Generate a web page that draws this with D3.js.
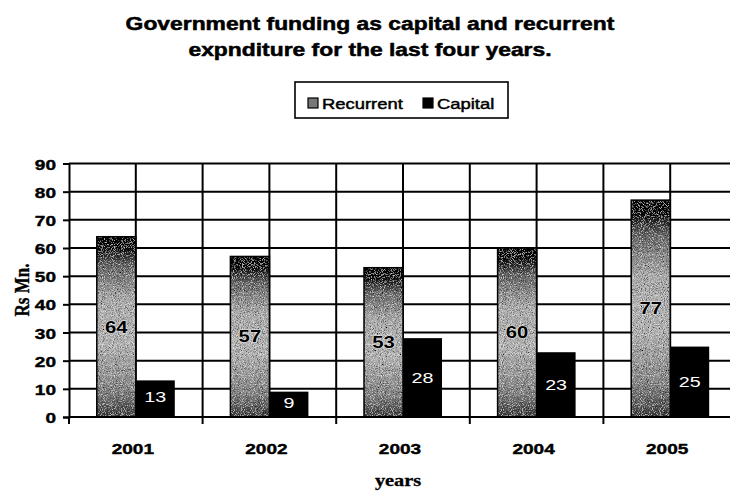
<!DOCTYPE html>
<html>
<head>
<meta charset="utf-8">
<script src="https://cdn.jsdelivr.net/npm/d3@7"></script>
<style>
  html, body { margin: 0; padding: 0; background: #fff; }
  svg { display: block; }
</style>
</head>
<body>
<script>
// Government funding (Rs Mn.) by year
const years = ["2001", "2002", "2003", "2004", "2005"];
const recurrent = [64, 57, 53, 60, 77];
const capital = [13, 9, 28, 23, 25];
const seriesNames = ["Recurrent", "Capital"];
const yTicks = [0, 10, 20, 30, 40, 50, 60, 70, 80, 90];
const titleLines = [
  "Government funding as capital and recurrent",
  "expnditure for the last four years."
];

const W = 730, H = 492;
const SX = 1.27; // glyphs are drawn horizontally widened

const svg = d3.select("body").append("svg")
  .attr("width", W).attr("height", H);

const defs = svg.append("defs");

// Shaded fill for the recurrent bars: dark top and bottom, lighter middle
const grad = defs.append("linearGradient")
  .attr("id", "recGrad").attr("x1", 0).attr("y1", 0).attr("x2", 0).attr("y2", 1);
[[0, "#000"], [0.07, "#0a0a0a"], [0.16, "#666"], [0.35, "#b4b4b4"],
 [0.6, "#bdbdbd"], [0.85, "#8a8a8a"], [1, "#3a3a3a"]]
  .forEach(([o, c]) => grad.append("stop").attr("offset", o).attr("stop-color", c));

// Speckle texture over the shaded bars
const speck = defs.append("filter").attr("id", "speckle")
  .attr("x", 0).attr("y", 0).attr("width", 1).attr("height", 1);
speck.append("feTurbulence").attr("type", "fractalNoise")
  .attr("baseFrequency", 0.95).attr("numOctaves", 2).attr("seed", 3).attr("result", "noise");
speck.append("feColorMatrix").attr("in", "noise").attr("type", "matrix")
  .attr("values", "0 0 0 0 0  0 0 0 0 0  0 0 0 0 0  2.2 0 0 0 -0.9")
  .attr("result", "dots");
speck.append("feComposite").attr("in", "dots").attr("in2", "SourceGraphic")
  .attr("operator", "atop").attr("result", "dark");
speck.append("feTurbulence").attr("type", "fractalNoise")
  .attr("baseFrequency", 1.1).attr("numOctaves", 1).attr("seed", 9).attr("result", "noise2");
speck.append("feColorMatrix").attr("in", "noise2").attr("type", "matrix")
  .attr("values", "0 0 0 0 1  0 0 0 0 1  0 0 0 0 1  2.4 0 0 0 -1.25")
  .attr("result", "light");
speck.append("feComposite").attr("in", "light").attr("in2", "SourceGraphic")
  .attr("operator", "in").attr("result", "lightIn");
speck.append("feMerge").call(m => {
  m.append("feMergeNode").attr("in", "SourceGraphic");
  m.append("feMergeNode").attr("in", "dark");
  m.append("feMergeNode").attr("in", "lightIn");
});

// Plot area
const plotLeft = 69, plotRight = 737, plotTop = 163.5, plotBottom = 417;

const x = d3.scaleBand().domain(years).range([plotLeft, plotRight]).paddingInner(0).paddingOuter(0);
const y = d3.scaleLinear().domain([0, 90]).range([plotBottom, plotTop]);
const barW = 39;
const xs = d3.scaleBand().domain(seriesNames).range([x.bandwidth() / 2 - barW, x.bandwidth() / 2 + barW]);

const stroke = "#000";
const sans = "Liberation Sans, Arial, sans-serif";
const serif = "Liberation Serif, Times New Roman, serif";

// Heavier strokes for the bold labels
function heavy(sel, w) {
  return sel.attr("stroke", "#000").attr("stroke-width", w).attr("stroke-linejoin", "round");
}

// Title
titleLines.forEach((t, i) => {
  svg.append("text")
    .attr("transform", `translate(370,${30 + i * 26}) scale(${SX},1)`)
    .attr("text-anchor", "middle")
    .attr("font-family", sans)
    .attr("font-weight", "bold").attr("font-size", 18)
    .attr("fill", "#000").call(heavy, 0.5).text(t);
});

// Legend
const lg = svg.append("g");
lg.append("rect").attr("x", 295).attr("y", 82).attr("width", 213).attr("height", 36)
  .attr("fill", "none").attr("stroke", stroke).attr("stroke-width", 1.6);
const legendItems = [
  { name: seriesNames[0], sx: 308, tx: 322, fill: "#777" },
  { name: seriesNames[1], sx: 423, tx: 437, fill: "#000" }
];
legendItems.forEach(d => {
  lg.append("rect").attr("x", d.sx).attr("y", 98).attr("width", 10).attr("height", 10)
    .attr("fill", d.fill)
    .attr("stroke", "#000").attr("stroke-width", 1.2);
  lg.append("text")
    .attr("transform", `translate(${d.tx},108.5) scale(${SX},1)`)
    .attr("font-family", sans)
    .attr("font-size", 14.5).attr("fill", "#000").call(heavy, 0.45).text(d.name);
});

// Grid: horizontal lines at each tick, vertical lines at band edges and centres
const grid = svg.append("g").attr("stroke", stroke).attr("stroke-width", 2);
grid.selectAll("line.h").data(yTicks.filter(v => v > 0)).join("line").attr("class", "h")
  .attr("x1", plotLeft).attr("x2", plotRight)
  .attr("y1", d => y(d)).attr("y2", d => y(d));
const vpos = [];
years.forEach(yr => { vpos.push(x(yr) + x.bandwidth() / 2); vpos.push(x(yr) + x.bandwidth()); });
grid.selectAll("line.v").data(vpos).join("line").attr("class", "v")
  .attr("x1", d => d).attr("x2", d => d).attr("y1", plotTop).attr("y2", plotBottom);

// Bars
const groups = svg.append("g").selectAll("g").data(years).join("g")
  .attr("transform", d => `translate(${x(d)},0)`);

groups.append("rect")
  .attr("x", xs("Recurrent")).attr("width", xs.bandwidth())
  .attr("y", (d, i) => y(recurrent[i])).attr("height", (d, i) => y(0) - y(recurrent[i]))
  .attr("fill", "url(#recGrad)").attr("filter", "url(#speckle)");
groups.append("rect")
  .attr("x", xs("Recurrent")).attr("width", xs.bandwidth())
  .attr("y", (d, i) => y(recurrent[i])).attr("height", (d, i) => y(0) - y(recurrent[i]))
  .attr("fill", "none").attr("stroke", "#000").attr("stroke-width", 1.5);
groups.append("rect")
  .attr("x", xs("Capital")).attr("width", xs.bandwidth())
  .attr("y", (d, i) => y(capital[i])).attr("height", (d, i) => y(0) - y(capital[i]))
  .attr("fill", "#000");

// Value labels, centred in each bar
groups.append("text")
  .attr("transform", (d, i) => `translate(${xs("Recurrent") + xs.bandwidth() / 2},${(y(recurrent[i]) + y(0)) / 2}) scale(${SX},1)`)
  .attr("dy", "0.36em").attr("text-anchor", "middle")
  .attr("font-family", sans)
  .attr("font-weight", "bold").attr("font-size", 16)
  .attr("fill", "#000").attr("stroke", "#e8e8e8").attr("stroke-width", 1.2)
  .attr("paint-order", "stroke")
  .text((d, i) => recurrent[i]);
groups.append("text")
  .attr("transform", (d, i) => `translate(${xs("Capital") + xs.bandwidth() / 2},${(y(capital[i]) + y(0)) / 2 + (capital[i] < 15 ? -2 : 0)}) scale(${SX},1)`)
  .attr("dy", "0.36em").attr("text-anchor", "middle")
  .attr("font-family", sans)
  .attr("font-size", 15.5).attr("fill", "#fff")
  .text((d, i) => capital[i]);

// Y axis
const yAxis = svg.append("g").attr("transform", `translate(${plotLeft},0)`)
  .call(d3.axisLeft(y).tickValues(yTicks).tickSize(6).tickPadding(6));
yAxis.select(".domain").attr("stroke", stroke).attr("stroke-width", 2);
yAxis.selectAll(".tick line").attr("stroke", stroke).attr("stroke-width", 2);
yAxis.selectAll(".tick text")
  .attr("x", null).attr("dy", null)
  .attr("transform", `translate(-13,5.5) scale(${SX},1)`)
  .attr("text-anchor", "end")
  .attr("font-family", sans)
  .attr("font-weight", "bold").attr("font-size", 15).attr("fill", "#000")
  .call(heavy, 0.4);

// X axis with ticks at band edges
const xAxis = svg.append("g").attr("transform", `translate(0,${plotBottom})`)
  .call(d3.axisBottom(x).tickSize(0).tickPadding(0));
xAxis.select(".domain").remove();
xAxis.append("line").attr("x1", plotLeft).attr("x2", plotRight).attr("y1", 0).attr("y2", 0)
  .attr("stroke", stroke).attr("stroke-width", 2.2);
xAxis.selectAll("line.edge").data([plotLeft].concat(years.map(yr => x(yr) + x.bandwidth())))
  .join("line").attr("class", "edge")
  .attr("x1", d => d).attr("x2", d => d).attr("y1", 0).attr("y2", 7)
  .attr("stroke", stroke).attr("stroke-width", 2);
xAxis.selectAll(".tick text")
  .attr("y", null).attr("dy", null)
  .attr("transform", `translate(-3,37) scale(${SX},1)`)
  .attr("font-family", sans)
  .attr("font-weight", "bold").attr("font-size", 15).attr("fill", "#000")
  .call(heavy, 0.4);

// Axis titles
svg.append("text")
  .attr("transform", `translate(398,486) scale(${SX},1)`)
  .attr("text-anchor", "middle")
  .attr("font-family", serif)
  .attr("font-weight", "bold").attr("font-size", 16).attr("fill", "#000")
  .call(heavy, 0.3)
  .text("years");
svg.append("text")
  .attr("transform", `translate(29,290) scale(${SX},1) rotate(-90)`)
  .attr("text-anchor", "middle")
  .attr("font-family", serif)
  .attr("font-weight", "bold").attr("font-size", 17).attr("fill", "#000")
  .call(heavy, 0.3)
  .text("Rs Mn.");
</script>
</body>
</html>
